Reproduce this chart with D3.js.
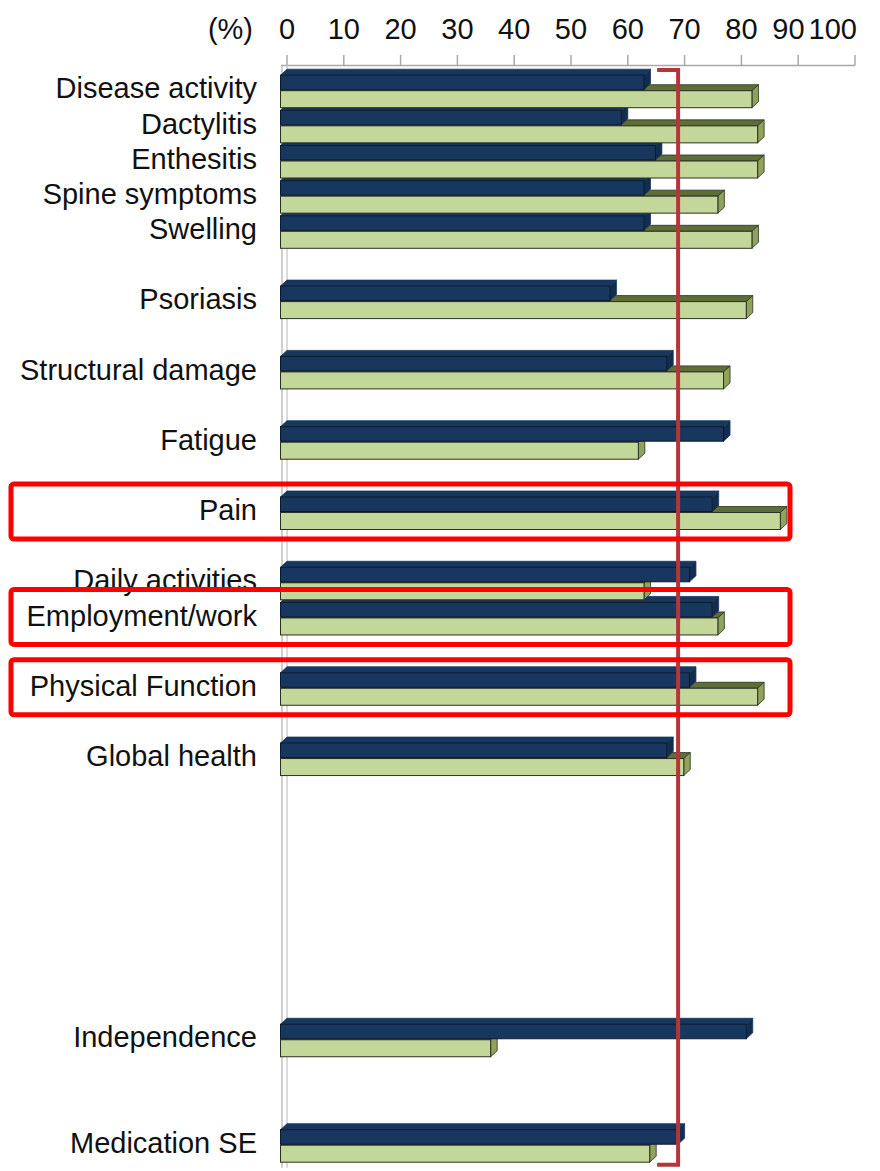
<!DOCTYPE html>
<html><head><meta charset="utf-8">
<script src="https://cdn.jsdelivr.net/npm/d3@7"></script>
<style>
body{margin:0;background:#fff}
svg{display:block}
text{font-family:"Liberation Sans",Arial,Helvetica,sans-serif}
</style>
</head><body>
<svg id="chart" width="880" height="1171"></svg>
<script>
// ---- data ----
const categories = ["Disease activity","Dactylitis","Enthesitis","Spine symptoms","Swelling","",
  "Psoriasis","","Structural damage","","Fatigue","","Pain","","Daily activities","Employment/work","",
  "Physical Function","","Global health","","","","","","","","Independence","","","Medication SE"];
const seriesBlue  = [64,60,66,64,64,null,58,null,68,null,78,null,76,null,72,76,null,72,null,68,
  null,null,null,null,null,null,null,82,null,null,70];
const seriesGreen = [83,84,84,77,83,null,82,null,78,null,63,null,88,null,64,77,null,84,null,71,
  null,null,null,null,null,null,null,37,null,null,65];
const tickValues = [0,10,20,30,40,50,60,70,80,90,100];
const tickLabels = ["0","10","20","30","40","50","60","70","80","90","100"];
const unitLabel = "(%)";
const threshold = 70;
const highlighted = ["Pain","Employment/work","Physical Function"];

// ---- layout ----
const svg = d3.select("#chart");
const x = d3.scaleLinear().domain([0,100]).range([287,855]);
const y = d3.scaleBand().domain(d3.range(categories.length)).range([69.2, 69.2 + categories.length*35.15]).padding(0);
const DX = 6.5, DY = 6;

const gBars = svg.append("g");
const order = d3.range(categories.length).reverse();

function drawBar(g, v, yFront, h, cols){
  const x0b = x(0), x0f = x(0)-DX, xb = x(v), xf = x(v)-DX;
  const yTop = yFront - DY;
  g.append("polygon")
    .attr("points", [[x0f,yFront],[x0b,yTop],[xb,yTop],[xf,yFront]].map(p=>p.join(",")).join(" "))
    .attr("fill", cols.top).attr("stroke", cols.stroke).attr("stroke-width", 0.8).attr("stroke-linejoin","round");
  g.append("polygon")
    .attr("points", [[xf,yFront],[xb,yTop],[xb,yTop+h],[xf,yFront+h]].map(p=>p.join(",")).join(" "))
    .attr("fill", cols.side).attr("stroke", cols.stroke).attr("stroke-width", 0.8).attr("stroke-linejoin","round");
  g.append("rect").attr("x", x0f).attr("y", yFront).attr("width", xf - x0f).attr("height", h)
    .attr("fill", cols.front).attr("stroke", cols.frontStroke || cols.stroke).attr("stroke-width", 1);
}

const greenCols = {front:"#C4D79B", top:"#5E6E38", side:"#8FA35C", stroke:"#2b2f22"};
const blueCols  = {front:"#17375E", top:"#17375E", side:"#122D4E", stroke:"#17375E", frontStroke:"#0c1a2c"};

order.forEach(i=>{
  const t = y(i);
  if (seriesGreen[i] != null) drawBar(gBars, seriesGreen[i], t+21.5, 17, greenCols);
  if (seriesBlue[i]  != null) drawBar(gBars, seriesBlue[i],  t+6,    14.5, blueCols);
});

// ---- axes ----
const gAxis = svg.insert("g", ":first-child");
const yEnd = y.range()[1];
gAxis.append("line").attr("x1", x(0)-6).attr("x2", x(100)).attr("y1", 65.5).attr("y2", 65.5)
  .attr("stroke", "#a8a8a8").attr("stroke-width", 1.5);
gAxis.selectAll("line.tick").data(tickValues).join("line").attr("class","tick")
  .attr("x1", d=>x(d)).attr("x2", d=>x(d)).attr("y1", 55).attr("y2", 65.5)
  .attr("stroke", "#a8a8a8").attr("stroke-width", 1.5);
gAxis.append("line").attr("x1", x(0)-5).attr("x2", x(0)-5).attr("y1", 65).attr("y2", yEnd+9)
  .attr("stroke", "#b4b4b4").attr("stroke-width", 1.3);
gAxis.append("line").attr("x1", x(0)).attr("x2", x(0)).attr("y1", 65).attr("y2", yEnd+9)
  .attr("stroke", "#c8c8c8").attr("stroke-width", 1.3);

// tick labels
const tl = svg.append("g").selectAll("text").data(tickValues).join("text")
  .attr("x", d=>x(d)).attr("y", 38.5).attr("text-anchor","middle")
  .attr("font-size", 29).attr("fill", "#111").text((d,i)=>tickLabels[i]);
{
  const nodes = tl.nodes();
  const last = nodes[nodes.length-1];
  last.setAttribute("text-anchor","end");
  last.setAttribute("x", x(100)+2);
  let nextLeft = last.getBBox().x;
  for (let k = nodes.length-2; k >= 0; k--){
    const bb = nodes[k].getBBox();
    if (bb.x + bb.width > nextLeft - 4){
      const shift = bb.x + bb.width - (nextLeft - 4);
      nodes[k].setAttribute("x", +nodes[k].getAttribute("x") - shift);
    }
    nextLeft = nodes[k].getBBox().x;
  }
}
svg.append("text").attr("x", 253).attr("y", 38.5).attr("text-anchor","end")
  .attr("font-size", 29).attr("fill","#111").text(unitLabel);

// category labels
svg.append("g").selectAll("text").data(categories.map((c,i)=>({c,i})).filter(d=>d.c))
  .join("text")
  .attr("x", 257).attr("y", d=>y(d.i)+19).attr("dy","0.35em")
  .attr("text-anchor","end").attr("font-size", 29).attr("fill","#111")
  .text(d=>d.c);

// threshold bracket
const xr = x(threshold) - DX;
svg.append("path")
  .attr("d", `M${xr-21},${y.range()[0]+0.8} H${xr} V${yEnd+6} H${xr-21}`)
  .attr("fill","none").attr("stroke","#B2373A").attr("stroke-width",4);

// highlight boxes
highlighted.forEach(name=>{
  const i = categories.indexOf(name);
  const t = y(i);
  svg.append("rect").attr("x", 11).attr("y", t-7).attr("width", 779).attr("height", 55)
    .attr("rx", 3).attr("fill","none").attr("stroke","#FF0000").attr("stroke-width",5);
});
</script>
</body></html>
